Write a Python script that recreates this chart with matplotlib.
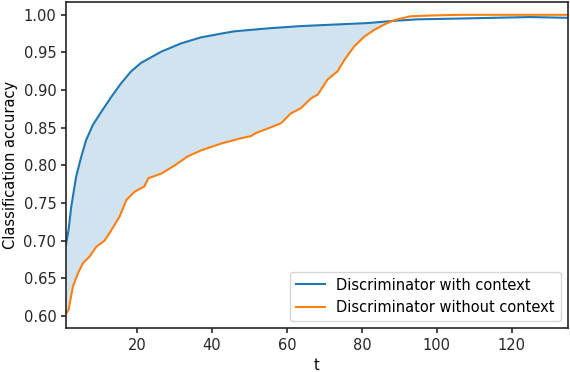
import numpy as np
import matplotlib
matplotlib.use('Agg')
import matplotlib.pyplot as plt

# values
t_ctx = [1, 1.67, 2.4, 3.7, 5.1, 6.4, 8.2, 10.4, 13.1, 15.7, 18.4, 21, 26.4, 31.7, 37, 42.4,
         45.9, 54.9, 63.7, 72.5, 81.5, 88.6, 95, 106, 115, 125, 135]
acc_ctx = [0.695, 0.714, 0.745, 0.785, 0.812, 0.834, 0.854, 0.871, 0.891, 0.909, 0.925, 0.936,
           0.951, 0.962, 0.970, 0.975, 0.978, 0.982, 0.985, 0.987, 0.989, 0.992, 0.994, 0.995,
           0.996, 0.997, 0.996]

t_noctx = [1, 1.67, 2.85, 4.2, 5.5, 7.3, 9.1, 11.3, 13.1, 15.3, 17.1, 19.3, 21.9, 23, 26.4, 30,
           33.5, 37.1, 42.4, 47.7, 50.4, 51.7, 54.9, 58.4, 61, 63.7, 66.4, 68.2, 70.8, 73.5, 75.3,
           77.9, 80.6, 83.3, 85.9, 88.6, 93, 98, 106, 115, 125, 135]
acc_noctx = [0.603, 0.608, 0.639, 0.657, 0.670, 0.679, 0.692, 0.700, 0.714, 0.732, 0.754, 0.765,
             0.772, 0.783, 0.789, 0.800, 0.812, 0.820, 0.829, 0.836, 0.839, 0.843, 0.849, 0.856,
             0.869, 0.876, 0.889, 0.894, 0.914, 0.925, 0.940, 0.958, 0.971, 0.980, 0.987, 0.993,
             0.998, 0.999, 1.0, 1.0, 1.0, 1.0]

t_ctx = np.array(t_ctx)
acc_ctx = np.array(acc_ctx)
t_noctx = np.array(t_noctx)
acc_noctx = np.array(acc_noctx)

fig, ax = plt.subplots(figsize=(5.7, 3.72), dpi=100)
fig.subplots_adjust(left=66/570, right=568/570, top=1-2/372, bottom=1-328/372)

ax.plot(t_ctx, acc_ctx, color='C0', lw=1.5, label='Discriminator with context')
ax.plot(t_noctx, acc_noctx, color='C1', lw=1.5, label='Discriminator without context')

# shade the gap between the two curves (on a shared grid)
tt = np.union1d(t_ctx, t_noctx)
a = np.interp(tt, t_ctx, acc_ctx)
b = np.interp(tt, t_noctx, acc_noctx)
ax.fill_between(tt, a, b, where=a >= b, interpolate=True, color='C0', alpha=0.2, lw=0)

ax.set_xlim(1, 135)
ax.set_ylim(0.584, 1.017)
ax.set_xticks([20, 40, 60, 80, 100, 120])
ax.set_yticks(np.arange(0.60, 1.001, 0.05))
ax.set_xlabel('t', fontsize=10.5)
ax.set_ylabel('Classification accuracy', fontsize=10.5)
ax.tick_params(labelsize=10.5, width=1.2, color='#262626', labelcolor='#262626')
for s in ax.spines.values():
    s.set_linewidth(1.2)
    s.set_color('#262626')
ax.legend(loc='lower right', fontsize=10.5)

fig.savefig('out.png')
